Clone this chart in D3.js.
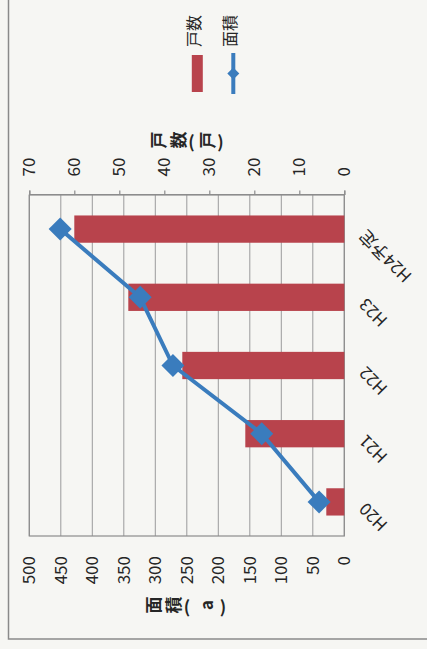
<!DOCTYPE html>
<html>
<head>
<meta charset="utf-8">
<script src="https://cdn.jsdelivr.net/npm/d3@7"></script>
<style>
  html, body { margin: 0; padding: 0; background: #f6f6f3; }
  svg { display: block; }
  text { font-family: "Noto Sans CJK JP", "Noto Sans", sans-serif; }
</style>
</head>
<body>
<svg id="chart" width="427" height="649"></svg>
<script>
// ---- data ----
const categories = ["H20", "H21", "H22", "H23", "H24予定"];
const households = [4, 22, 36, 48, 60];       // 戸数(戸)
const areas = [40, 131, 272, 324, 451];         // 面積(a)
const areaTicks = [0, 50, 100, 150, 200, 250, 300, 350, 400, 450, 500];
const householdTicks = [0, 10, 20, 30, 40, 50, 60, 70];
const seriesNames = ["戸数", "面積"];
const areaTitle = ["面", "積", "(", " ", "a", " ", ")"];
const householdTitle = ["戸", "数", "(", "戸", ")"];

// ---- layout (chart drawn upright then turned a quarter turn) ----
const svg = d3.select("#chart");
const W = 341, H = 315;
const red = "#b8434c", blue = "#3a7cbd", grid = "#9c9c9c", ink = "#262626";

// outer frame of the scanned chart
svg.append("path")
  .attr("d", "M8.5,0V639H427")
  .attr("fill", "none").attr("stroke", "#8a8a8a").attr("stroke-width", 1.5);

const g = svg.append("g").attr("transform", "translate(29.3,536) rotate(-90)");

const x = d3.scaleBand().domain(categories).range([0, W]).paddingInner(0.6).paddingOuter(0.3);
const yA = d3.scaleLinear().domain([0, 500]).range([H, 0]);
const yH = d3.scaleLinear().domain([0, 70]).range([H, 0]);

// gridlines
g.append("g").selectAll("line").data(areaTicks).join("line")
  .attr("x1", 0).attr("x2", W)
  .attr("y1", d => yA(d)).attr("y2", d => yA(d))
  .attr("stroke", grid).attr("stroke-width", 1);
g.append("rect").attr("x", 0).attr("y", 0).attr("width", W).attr("height", H)
  .attr("fill", "none").attr("stroke", "#8c8c8c").attr("stroke-width", 1.2);

// left axis (面積)
const axL = g.append("g").call(d3.axisLeft(yA).tickValues(areaTicks).tickSize(0).tickPadding(20));
axL.select(".domain").remove();
axL.selectAll("text").attr("font-size", 17).attr("fill", ink)
  .attr("font-family", "'Noto Sans CJK JP', sans-serif");

// right axis (戸数)
const axR = g.append("g").attr("transform", `translate(${W},0)`)
  .call(d3.axisRight(yH).tickValues(householdTicks).tickSize(4.5).tickPadding(14));
axR.select(".domain").attr("stroke", "#8c8c8c").attr("stroke-width", 1.2);
axR.selectAll(".tick line").attr("stroke", "#8c8c8c").attr("stroke-width", 1.2);
axR.selectAll("text").attr("font-size", 17).attr("fill", ink)
  .attr("font-family", "'Noto Sans CJK JP', sans-serif");

// category axis
const axB = g.append("g").attr("transform", `translate(0,${H})`)
  .call(d3.axisBottom(x).tickSize(0).tickPadding(0));
axB.select(".domain").remove();
axB.selectAll("text")
  .attr("font-size", 17).attr("fill", ink)
  .attr("font-family", "'Noto Sans CJK JP', sans-serif")
  .attr("text-anchor", "end")
  .attr("dy", "0.35em")
  .attr("transform", "translate(-4,18) rotate(-45)");

// bars
g.append("g").selectAll("rect").data(categories).join("rect")
  .attr("x", d => x(d)).attr("width", x.bandwidth())
  .attr("y", (d, i) => yH(households[i]))
  .attr("height", (d, i) => H - yH(households[i]))
  .attr("fill", red);

// line + diamonds
const cx = d => x(d) + x.bandwidth() / 2;
g.append("path")
  .datum(categories)
  .attr("d", d3.line().x(d => cx(d)).y((d, i) => yA(areas[i])))
  .attr("fill", "none").attr("stroke", blue).attr("stroke-width", 4).attr("stroke-linejoin", "round");
g.append("g").selectAll("path").data(categories).join("path")
  .attr("d", d3.symbol(d3.symbolSquare, 265))
  .attr("transform", (d, i) => `translate(${cx(d)},${yA(areas[i])}) rotate(45)`)
  .attr("fill", blue);

// axis titles (vertical stacked text)
function stackedTitle(chars, px, centerY) {
  const w = c => (c === " " ? 4 : /[\u3000-\u9fff]/.test(c) ? 17 : c === "a" ? 10 : 6);
  const pos = [];
  let acc = 0;
  chars.forEach((c, i) => {
    if (i > 0) acc += w(chars[i - 1]) / 2 + 3 + w(c) / 2;
    pos.push(acc);
  });
  const off = centerY - acc / 2;
  const t = g.append("g");
  chars.forEach((c, i) => {
    if (c === " ") return;
    const rot = (c === "(" || c === ")") ? 90 : 0;
    t.append("text")
      .attr("transform", `translate(${px},${off + pos[i]}) rotate(${rot})`)
      .attr("text-anchor", "middle").attr("dominant-baseline", "central")
      .attr("font-size", 17).attr("font-weight", "bold").attr("fill", ink)
      .text(c);
  });
}
stackedTitle(areaTitle, -69, H / 2 + 1);
stackedTitle(householdTitle, W + 55, H / 2 + 2);

// legend
const leg = g.append("g");
const legY = [168, 204];
leg.append("rect").attr("x", 444).attr("y", legY[0] - 5.5).attr("width", 37).attr("height", 11).attr("fill", red);
leg.append("line").attr("x1", 442).attr("x2", 483).attr("y1", legY[1]).attr("y2", legY[1])
  .attr("stroke", blue).attr("stroke-width", 4);
leg.append("path").attr("d", d3.symbol(d3.symbolSquare, 72))
  .attr("transform", `translate(462.5,${legY[1]}) rotate(45)`).attr("fill", blue);
leg.selectAll("text").data(seriesNames).join("text")
  .attr("x", 489).attr("y", (d, i) => legY[i] - 4)
  .attr("dominant-baseline", "central")
  .attr("font-size", 16).attr("fill", ink)
  .text(d => d);
</script>
</body>
</html>
